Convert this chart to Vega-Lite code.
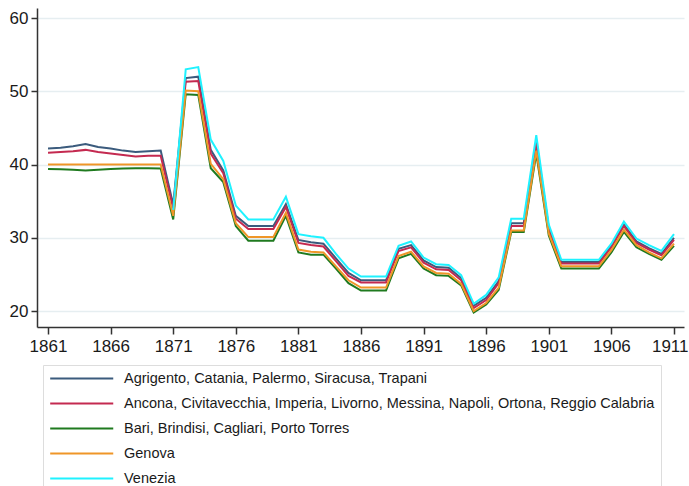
{
  "$schema": "https://vega.github.io/schema/vega-lite/v6.json",
  "autosize": {"type": "none"},
  "padding": {"left": 37, "top": 8, "right": 5, "bottom": 159},
  "width": 647,
  "height": 319,
  "background": "white",
  "config": {
    "view": {"stroke": null},
    "font": "Liberation Sans"
  },
  "data": {
    "values": [
      {"year": 1861, "Agrigento, Catania, Palermo, Siracusa, Trapani": 42.2, "Ancona, Civitavecchia, Imperia, Livorno, Messina, Napoli, Ortona, Reggio Calabria": 41.6, "Bari, Brindisi, Cagliari, Porto Torres": 39.4, "Genova": 40.0},
      {"year": 1862, "Agrigento, Catania, Palermo, Siracusa, Trapani": 42.3, "Ancona, Civitavecchia, Imperia, Livorno, Messina, Napoli, Ortona, Reggio Calabria": 41.7, "Bari, Brindisi, Cagliari, Porto Torres": 39.35, "Genova": 40.0},
      {"year": 1863, "Agrigento, Catania, Palermo, Siracusa, Trapani": 42.5, "Ancona, Civitavecchia, Imperia, Livorno, Messina, Napoli, Ortona, Reggio Calabria": 41.8, "Bari, Brindisi, Cagliari, Porto Torres": 39.3, "Genova": 40.0},
      {"year": 1864, "Agrigento, Catania, Palermo, Siracusa, Trapani": 42.8, "Ancona, Civitavecchia, Imperia, Livorno, Messina, Napoli, Ortona, Reggio Calabria": 42.0, "Bari, Brindisi, Cagliari, Porto Torres": 39.2, "Genova": 40.0},
      {"year": 1865, "Agrigento, Catania, Palermo, Siracusa, Trapani": 42.4, "Ancona, Civitavecchia, Imperia, Livorno, Messina, Napoli, Ortona, Reggio Calabria": 41.7, "Bari, Brindisi, Cagliari, Porto Torres": 39.3, "Genova": 40.0},
      {"year": 1866, "Agrigento, Catania, Palermo, Siracusa, Trapani": 42.2, "Ancona, Civitavecchia, Imperia, Livorno, Messina, Napoli, Ortona, Reggio Calabria": 41.5, "Bari, Brindisi, Cagliari, Porto Torres": 39.4, "Genova": 40.0},
      {"year": 1867, "Agrigento, Catania, Palermo, Siracusa, Trapani": 41.9, "Ancona, Civitavecchia, Imperia, Livorno, Messina, Napoli, Ortona, Reggio Calabria": 41.3, "Bari, Brindisi, Cagliari, Porto Torres": 39.45, "Genova": 40.0},
      {"year": 1868, "Agrigento, Catania, Palermo, Siracusa, Trapani": 41.7, "Ancona, Civitavecchia, Imperia, Livorno, Messina, Napoli, Ortona, Reggio Calabria": 41.1, "Bari, Brindisi, Cagliari, Porto Torres": 39.5, "Genova": 40.0},
      {"year": 1869, "Agrigento, Catania, Palermo, Siracusa, Trapani": 41.8, "Ancona, Civitavecchia, Imperia, Livorno, Messina, Napoli, Ortona, Reggio Calabria": 41.2, "Bari, Brindisi, Cagliari, Porto Torres": 39.5, "Genova": 40.0},
      {"year": 1870, "Agrigento, Catania, Palermo, Siracusa, Trapani": 41.9, "Ancona, Civitavecchia, Imperia, Livorno, Messina, Napoli, Ortona, Reggio Calabria": 41.2, "Bari, Brindisi, Cagliari, Porto Torres": 39.45, "Genova": 40.0},
      {"year": 1871, "Agrigento, Catania, Palermo, Siracusa, Trapani": 34.5, "Ancona, Civitavecchia, Imperia, Livorno, Messina, Napoli, Ortona, Reggio Calabria": 34.0, "Bari, Brindisi, Cagliari, Porto Torres": 32.5, "Genova": 33.0, "Venezia": 33.8},
      {"year": 1872, "Agrigento, Catania, Palermo, Siracusa, Trapani": 51.8, "Ancona, Civitavecchia, Imperia, Livorno, Messina, Napoli, Ortona, Reggio Calabria": 51.3, "Bari, Brindisi, Cagliari, Porto Torres": 49.6, "Genova": 50.1, "Venezia": 53.0},
      {"year": 1873, "Agrigento, Catania, Palermo, Siracusa, Trapani": 52.0, "Ancona, Civitavecchia, Imperia, Livorno, Messina, Napoli, Ortona, Reggio Calabria": 51.4, "Bari, Brindisi, Cagliari, Porto Torres": 49.5, "Genova": 50.0, "Venezia": 53.3},
      {"year": 1874, "Agrigento, Catania, Palermo, Siracusa, Trapani": 42.0, "Ancona, Civitavecchia, Imperia, Livorno, Messina, Napoli, Ortona, Reggio Calabria": 41.5, "Bari, Brindisi, Cagliari, Porto Torres": 39.5, "Genova": 40.1, "Venezia": 43.4},
      {"year": 1875, "Agrigento, Catania, Palermo, Siracusa, Trapani": 39.2, "Ancona, Civitavecchia, Imperia, Livorno, Messina, Napoli, Ortona, Reggio Calabria": 38.8, "Bari, Brindisi, Cagliari, Porto Torres": 37.6, "Genova": 38.0, "Venezia": 40.5},
      {"year": 1876, "Agrigento, Catania, Palermo, Siracusa, Trapani": 33.0, "Ancona, Civitavecchia, Imperia, Livorno, Messina, Napoli, Ortona, Reggio Calabria": 32.6, "Bari, Brindisi, Cagliari, Porto Torres": 31.6, "Genova": 32.0, "Venezia": 34.4},
      {"year": 1877, "Agrigento, Catania, Palermo, Siracusa, Trapani": 31.6, "Ancona, Civitavecchia, Imperia, Livorno, Messina, Napoli, Ortona, Reggio Calabria": 31.2, "Bari, Brindisi, Cagliari, Porto Torres": 29.6, "Genova": 30.1, "Venezia": 32.5},
      {"year": 1878, "Agrigento, Catania, Palermo, Siracusa, Trapani": 31.6, "Ancona, Civitavecchia, Imperia, Livorno, Messina, Napoli, Ortona, Reggio Calabria": 31.2, "Bari, Brindisi, Cagliari, Porto Torres": 29.6, "Genova": 30.1, "Venezia": 32.5},
      {"year": 1879, "Agrigento, Catania, Palermo, Siracusa, Trapani": 31.6, "Ancona, Civitavecchia, Imperia, Livorno, Messina, Napoli, Ortona, Reggio Calabria": 31.2, "Bari, Brindisi, Cagliari, Porto Torres": 29.6, "Genova": 30.1, "Venezia": 32.5},
      {"year": 1880, "Agrigento, Catania, Palermo, Siracusa, Trapani": 34.6, "Ancona, Civitavecchia, Imperia, Livorno, Messina, Napoli, Ortona, Reggio Calabria": 34.2, "Bari, Brindisi, Cagliari, Porto Torres": 33.0, "Genova": 33.4, "Venezia": 35.6},
      {"year": 1881, "Agrigento, Catania, Palermo, Siracusa, Trapani": 29.7, "Ancona, Civitavecchia, Imperia, Livorno, Messina, Napoli, Ortona, Reggio Calabria": 29.3, "Bari, Brindisi, Cagliari, Porto Torres": 28.0, "Genova": 28.4, "Venezia": 30.5},
      {"year": 1882, "Agrigento, Catania, Palermo, Siracusa, Trapani": 29.4, "Ancona, Civitavecchia, Imperia, Livorno, Messina, Napoli, Ortona, Reggio Calabria": 29.0, "Bari, Brindisi, Cagliari, Porto Torres": 27.7, "Genova": 28.1, "Venezia": 30.2},
      {"year": 1883, "Agrigento, Catania, Palermo, Siracusa, Trapani": 29.2, "Ancona, Civitavecchia, Imperia, Livorno, Messina, Napoli, Ortona, Reggio Calabria": 28.8, "Bari, Brindisi, Cagliari, Porto Torres": 27.7, "Genova": 28.0, "Venezia": 30.0},
      {"year": 1884, "Agrigento, Catania, Palermo, Siracusa, Trapani": 27.2, "Ancona, Civitavecchia, Imperia, Livorno, Messina, Napoli, Ortona, Reggio Calabria": 26.8, "Bari, Brindisi, Cagliari, Porto Torres": 25.8, "Genova": 26.1, "Venezia": 27.8},
      {"year": 1885, "Agrigento, Catania, Palermo, Siracusa, Trapani": 25.2, "Ancona, Civitavecchia, Imperia, Livorno, Messina, Napoli, Ortona, Reggio Calabria": 24.8, "Bari, Brindisi, Cagliari, Porto Torres": 23.8, "Genova": 24.2, "Venezia": 25.8},
      {"year": 1886, "Agrigento, Catania, Palermo, Siracusa, Trapani": 24.2, "Ancona, Civitavecchia, Imperia, Livorno, Messina, Napoli, Ortona, Reggio Calabria": 23.9, "Bari, Brindisi, Cagliari, Porto Torres": 22.8, "Genova": 23.2, "Venezia": 24.7},
      {"year": 1887, "Agrigento, Catania, Palermo, Siracusa, Trapani": 24.2, "Ancona, Civitavecchia, Imperia, Livorno, Messina, Napoli, Ortona, Reggio Calabria": 23.9, "Bari, Brindisi, Cagliari, Porto Torres": 22.8, "Genova": 23.2, "Venezia": 24.7},
      {"year": 1888, "Agrigento, Catania, Palermo, Siracusa, Trapani": 24.2, "Ancona, Civitavecchia, Imperia, Livorno, Messina, Napoli, Ortona, Reggio Calabria": 23.9, "Bari, Brindisi, Cagliari, Porto Torres": 22.8, "Genova": 23.2, "Venezia": 24.7},
      {"year": 1889, "Agrigento, Catania, Palermo, Siracusa, Trapani": 28.5, "Ancona, Civitavecchia, Imperia, Livorno, Messina, Napoli, Ortona, Reggio Calabria": 28.2, "Bari, Brindisi, Cagliari, Porto Torres": 27.2, "Genova": 27.5, "Venezia": 28.9},
      {"year": 1890, "Agrigento, Catania, Palermo, Siracusa, Trapani": 29.0, "Ancona, Civitavecchia, Imperia, Livorno, Messina, Napoli, Ortona, Reggio Calabria": 28.7, "Bari, Brindisi, Cagliari, Porto Torres": 27.8, "Genova": 28.1, "Venezia": 29.5},
      {"year": 1891, "Agrigento, Catania, Palermo, Siracusa, Trapani": 26.9, "Ancona, Civitavecchia, Imperia, Livorno, Messina, Napoli, Ortona, Reggio Calabria": 26.6, "Bari, Brindisi, Cagliari, Porto Torres": 25.8, "Genova": 26.1, "Venezia": 27.3},
      {"year": 1892, "Agrigento, Catania, Palermo, Siracusa, Trapani": 26.0, "Ancona, Civitavecchia, Imperia, Livorno, Messina, Napoli, Ortona, Reggio Calabria": 25.7, "Bari, Brindisi, Cagliari, Porto Torres": 24.9, "Genova": 25.2, "Venezia": 26.4},
      {"year": 1893, "Agrigento, Catania, Palermo, Siracusa, Trapani": 25.9, "Ancona, Civitavecchia, Imperia, Livorno, Messina, Napoli, Ortona, Reggio Calabria": 25.6, "Bari, Brindisi, Cagliari, Porto Torres": 24.8, "Genova": 25.1, "Venezia": 26.3},
      {"year": 1894, "Agrigento, Catania, Palermo, Siracusa, Trapani": 24.5, "Ancona, Civitavecchia, Imperia, Livorno, Messina, Napoli, Ortona, Reggio Calabria": 24.2, "Bari, Brindisi, Cagliari, Porto Torres": 23.5, "Genova": 23.7, "Venezia": 24.9},
      {"year": 1895, "Agrigento, Catania, Palermo, Siracusa, Trapani": 20.7, "Ancona, Civitavecchia, Imperia, Livorno, Messina, Napoli, Ortona, Reggio Calabria": 20.4, "Bari, Brindisi, Cagliari, Porto Torres": 19.8, "Genova": 20.0, "Venezia": 21.0},
      {"year": 1896, "Agrigento, Catania, Palermo, Siracusa, Trapani": 21.8, "Ancona, Civitavecchia, Imperia, Livorno, Messina, Napoli, Ortona, Reggio Calabria": 21.5, "Bari, Brindisi, Cagliari, Porto Torres": 20.9, "Genova": 21.1, "Venezia": 22.2},
      {"year": 1897, "Agrigento, Catania, Palermo, Siracusa, Trapani": 24.1, "Ancona, Civitavecchia, Imperia, Livorno, Messina, Napoli, Ortona, Reggio Calabria": 23.8, "Bari, Brindisi, Cagliari, Porto Torres": 22.9, "Genova": 23.2, "Venezia": 24.6},
      {"year": 1898, "Agrigento, Catania, Palermo, Siracusa, Trapani": 32.0, "Ancona, Civitavecchia, Imperia, Livorno, Messina, Napoli, Ortona, Reggio Calabria": 31.6, "Bari, Brindisi, Cagliari, Porto Torres": 30.8, "Genova": 31.0, "Venezia": 32.6},
      {"year": 1899, "Agrigento, Catania, Palermo, Siracusa, Trapani": 32.0, "Ancona, Civitavecchia, Imperia, Livorno, Messina, Napoli, Ortona, Reggio Calabria": 31.6, "Bari, Brindisi, Cagliari, Porto Torres": 30.8, "Genova": 31.0, "Venezia": 32.6},
      {"year": 1900, "Agrigento, Catania, Palermo, Siracusa, Trapani": 43.3, "Ancona, Civitavecchia, Imperia, Livorno, Messina, Napoli, Ortona, Reggio Calabria": 42.9, "Bari, Brindisi, Cagliari, Porto Torres": 41.5, "Genova": 41.9, "Venezia": 44.0},
      {"year": 1901, "Agrigento, Catania, Palermo, Siracusa, Trapani": 31.3, "Ancona, Civitavecchia, Imperia, Livorno, Messina, Napoli, Ortona, Reggio Calabria": 31.0, "Bari, Brindisi, Cagliari, Porto Torres": 30.3, "Genova": 30.6, "Venezia": 31.8},
      {"year": 1902, "Agrigento, Catania, Palermo, Siracusa, Trapani": 26.7, "Ancona, Civitavecchia, Imperia, Livorno, Messina, Napoli, Ortona, Reggio Calabria": 26.5, "Bari, Brindisi, Cagliari, Porto Torres": 25.8, "Genova": 26.1, "Venezia": 27.0},
      {"year": 1903, "Agrigento, Catania, Palermo, Siracusa, Trapani": 26.7, "Ancona, Civitavecchia, Imperia, Livorno, Messina, Napoli, Ortona, Reggio Calabria": 26.5, "Bari, Brindisi, Cagliari, Porto Torres": 25.8, "Genova": 26.1, "Venezia": 27.0},
      {"year": 1904, "Agrigento, Catania, Palermo, Siracusa, Trapani": 26.7, "Ancona, Civitavecchia, Imperia, Livorno, Messina, Napoli, Ortona, Reggio Calabria": 26.5, "Bari, Brindisi, Cagliari, Porto Torres": 25.8, "Genova": 26.1, "Venezia": 27.0},
      {"year": 1905, "Agrigento, Catania, Palermo, Siracusa, Trapani": 26.7, "Ancona, Civitavecchia, Imperia, Livorno, Messina, Napoli, Ortona, Reggio Calabria": 26.5, "Bari, Brindisi, Cagliari, Porto Torres": 25.8, "Genova": 26.1, "Venezia": 27.0},
      {"year": 1906, "Agrigento, Catania, Palermo, Siracusa, Trapani": 28.9, "Ancona, Civitavecchia, Imperia, Livorno, Messina, Napoli, Ortona, Reggio Calabria": 28.7, "Bari, Brindisi, Cagliari, Porto Torres": 28.0, "Genova": 28.3, "Venezia": 29.2},
      {"year": 1907, "Agrigento, Catania, Palermo, Siracusa, Trapani": 31.8, "Ancona, Civitavecchia, Imperia, Livorno, Messina, Napoli, Ortona, Reggio Calabria": 31.6, "Bari, Brindisi, Cagliari, Porto Torres": 30.8, "Genova": 31.1, "Venezia": 32.2},
      {"year": 1908, "Agrigento, Catania, Palermo, Siracusa, Trapani": 29.5, "Ancona, Civitavecchia, Imperia, Livorno, Messina, Napoli, Ortona, Reggio Calabria": 29.3, "Bari, Brindisi, Cagliari, Porto Torres": 28.7, "Genova": 29.0, "Venezia": 29.9},
      {"year": 1909, "Agrigento, Catania, Palermo, Siracusa, Trapani": 28.6, "Ancona, Civitavecchia, Imperia, Livorno, Messina, Napoli, Ortona, Reggio Calabria": 28.4, "Bari, Brindisi, Cagliari, Porto Torres": 27.8, "Genova": 28.0, "Venezia": 29.0},
      {"year": 1910, "Agrigento, Catania, Palermo, Siracusa, Trapani": 27.8, "Ancona, Civitavecchia, Imperia, Livorno, Messina, Napoli, Ortona, Reggio Calabria": 27.6, "Bari, Brindisi, Cagliari, Porto Torres": 27.0, "Genova": 27.2, "Venezia": 28.2},
      {"year": 1911, "Agrigento, Catania, Palermo, Siracusa, Trapani": 30.0, "Ancona, Civitavecchia, Imperia, Livorno, Messina, Napoli, Ortona, Reggio Calabria": 29.7, "Bari, Brindisi, Cagliari, Porto Torres": 28.9, "Genova": 29.2, "Venezia": 30.5}
    ]
  },
  "transform": [
    {"fold": ["Agrigento, Catania, Palermo, Siracusa, Trapani", "Ancona, Civitavecchia, Imperia, Livorno, Messina, Napoli, Ortona, Reggio Calabria", "Bari, Brindisi, Cagliari, Porto Torres", "Genova", "Venezia"], "as": ["group", "value"]}
  ],
  "mark": {"type": "line", "strokeWidth": 2, "clip": true},
  "encoding": {
    "x": {
      "field": "year", "type": "quantitative",
      "scale": {"domain": [1860.12, 1911.8], "nice": false, "zero": false},
      "axis": {
        "title": null, "values": [1861, 1866, 1871, 1876, 1881, 1886, 1891, 1896, 1901, 1906, 1911],
        "format": "d", "grid": false, "domainColor": "#333333", "domainWidth": 1.5,
        "tickColor": "#333333", "tickWidth": 1.5, "tickSize": 7,
        "labelFlush": 10.5, "labelFlushOffset": 14,
        "labelFont": "Liberation Sans", "labelFontSize": 17, "labelColor": "#1a1a1a", "labelPadding": 4
      }
    },
    "y": {
      "field": "value", "type": "quantitative",
      "scale": {"domain": [17.82, 61.37], "nice": false, "zero": false},
      "axis": {
        "title": null, "values": [20, 30, 40, 50, 60], "grid": true,
        "gridColor": "#e6eef1", "gridWidth": 1.5,
        "domainColor": "#333333", "domainWidth": 1.5,
        "tickColor": "#333333", "tickWidth": 1.5, "tickSize": 6,
        "labelFont": "Liberation Sans", "labelFontSize": 17, "labelColor": "#1a1a1a", "labelPadding": 3
      }
    },
    "color": {
      "field": "group", "type": "nominal",
      "scale": {
        "domain": ["Agrigento, Catania, Palermo, Siracusa, Trapani", "Ancona, Civitavecchia, Imperia, Livorno, Messina, Napoli, Ortona, Reggio Calabria", "Bari, Brindisi, Cagliari, Porto Torres", "Genova", "Venezia"],
        "range": ["#3b5b7d", "#c42a50", "#1f7a1f", "#ef9628", "#1ff2ff"]
      },
      "legend": {
        "orient": "none", "legendX": 6, "legendY": 357, "direction": "vertical",
        "title": null,
        "symbolType": "M-1,0H9", "symbolSize": 159, "symbolStrokeWidth": 2,
        "labelFont": "Liberation Sans", "labelFontSize": 14.5, "labelColor": "#1a1a1a",
        "labelOffset": 60, "labelLimit": 800,
        "rowPadding": 10, "padding": 6, "strokeColor": "#dddddd"
      }
    }
  }
}
